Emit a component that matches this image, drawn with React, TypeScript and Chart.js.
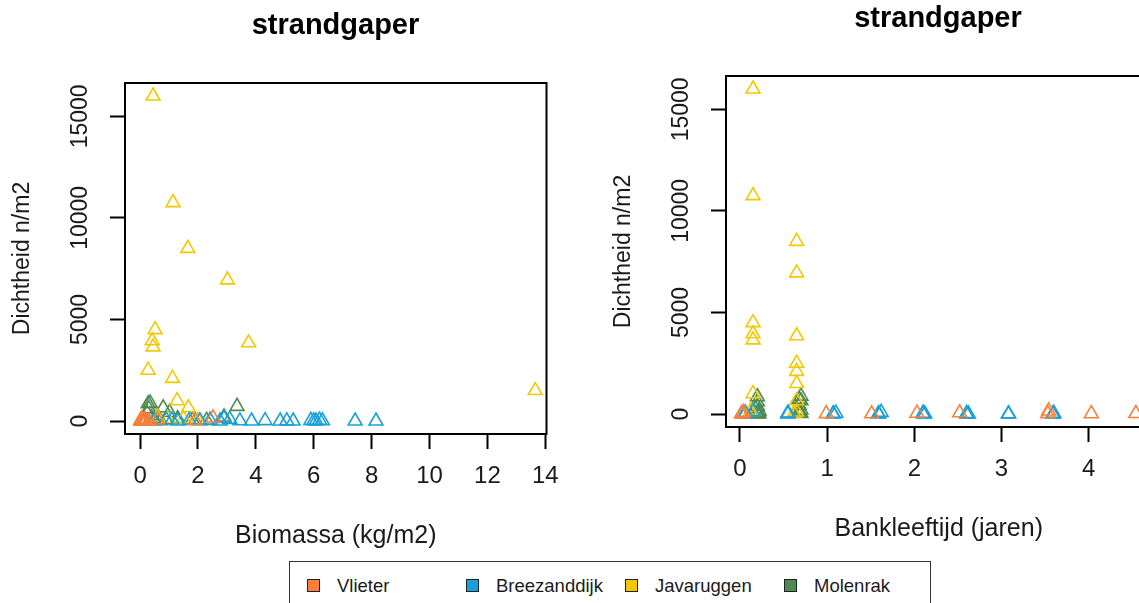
import React, { useEffect, useRef } from "react";
import { Chart, registerables } from "chart.js";

Chart.register(...registerables);

const FONT = "'Liberation Sans', Arial, Helvetica, sans-serif";

// Sites (legend order) and their colours
const sites = ["Vlieter", "Breezanddijk", "Javaruggen", "Molenrak"];
const siteColors = ["#F9803A", "#1AA0D8", "#F4C800", "#4E8A50"];

// Vlieter
const vlieterBiomassa = [0.02, 0.05, 0.1, 2.52, 0.3, 0.15, 0.6, 0.08, 0.2, 1.9, 0.04];
const vlieterLeeftijd = [0.02, 0.04, 0.99, 3.54, 1.51, 2.03, 2.52, 3.53, 4.03, 4.54, 0.02];
const vlieterDichtheid = [30, 80, 20, 150, 10, 40, 60, 20, 15, 25, 0];

// Breezanddijk
const breezBiomassa = [0.5, 0.9, 1.3, 1.7, 2.07, 2.42, 2.76, 3.1, 3.45, 3.85, 4.32, 4.84, 5.07, 5.29, 5.9, 6.0, 6.08, 6.2, 6.3, 7.43, 8.15, 2.9, 1.1, 0.2];
const breezLeeftijd = [0.06, 0.06, 0.55, 0.55, 1.07, 1.1, 1.59, 1.62, 2.1, 2.12, 2.6, 2.62, 3.08, 3.59, 3.6, 0.06, 1.07, 2.1, 2.6, 3.08, 3.59, 0.15, 0.55, 1.59];
const breezDichtheid = [20, 60, 0, 30, 10, 40, 0, 80, 10, 0, 20, 0, 10, 0, 30, 10, 0, 40, 10, 0, 0, 120, 50, 20];

// Javaruggen
const javaBiomassa = [0.45, 1.14, 1.65, 3.02, 0.52, 0.42, 0.45, 3.75, 0.28, 1.12, 13.65, 1.28, 1.67, 0.6, 0.95, 1.5, 2.0];
const javaLeeftijd = [0.15, 0.15, 0.65, 0.65, 0.15, 0.15, 0.15, 0.65, 0.65, 0.65, 0.65, 0.15, 0.65, 0.13, 0.12, 0.65, 0.62];
const javaDichtheid = [16000, 10750, 8500, 6950, 4500, 3950, 3650, 3850, 2500, 2100, 1500, 1000, 650, 200, 120, 100, 40];

// Molenrak
const molenBiomassa = [0.28, 0.35, 0.3, 0.25, 0.4, 0.8, 1.02, 3.35, 0.6, 1.3, 1.8, 2.3, 0.15, 0.5, 2.9, 0.7];
const molenLeeftijd = [0.2, 0.7, 0.2, 0.2, 0.22, 0.7, 0.68, 0.68, 0.18, 0.68, 0.2, 0.7, 0.2, 0.68, 0.7, 0.22];
const molenDichtheid = [850, 880, 600, 380, 150, 650, 420, 720, 250, 120, 60, 30, 0, 80, 200, 10];

// Axis ticks
const biomassaTicks = [0, 2, 4, 6, 8, 10, 12, 14];
const leeftijdTicks = [0, 1, 2, 3, 4];
const dichtheidTicks = [0, 5000, 10000, 15000];

const biomassaPerSite = [vlieterBiomassa, breezBiomassa, javaBiomassa, molenBiomassa];
const leeftijdPerSite = [vlieterLeeftijd, breezLeeftijd, javaLeeftijd, molenLeeftijd];
const dichtheidPerSite = [vlieterDichtheid, breezDichtheid, javaDichtheid, molenDichtheid];

const CANVAS_H = 560;
const AREA_TOP = 83;
const AREA_BOTTOM = 434;
const AREA_LEFT = 125;
const TEXT = "#1a1a1a";

// Frame around the plotting region
const boxPlugin = {
  id: "plotBox",
  afterDraw(chart: any) {
    const { ctx, chartArea: a } = chart;
    ctx.save();
    ctx.strokeStyle = "#000";
    ctx.lineWidth = 2;
    ctx.strokeRect(a.left, a.top, a.right - a.left, a.bottom - a.top);
    ctx.restore();
  },
};

const axisGrid = {
  display: true,
  drawOnChartArea: false,
  drawTicks: true,
  tickLength: 15,
  tickWidth: 2,
  tickColor: "#000",
};

type PanelProps = {
  xPerSite: number[][];
  xMin: number;
  xMax: number;
  xTicks: number[];
  xTitle: string;
  width: number;
  padRight: number;
  left: number;
  top: number;
};

function ScatterPanel({ xPerSite, xMin, xMax, xTicks, xTitle, width, padRight, left, top }: PanelProps) {
  const ref = useRef<HTMLCanvasElement>(null);

  useEffect(() => {
    const datasets = sites.map((name, s) => ({
      label: name,
      data: xPerSite[s].map((x, i) => ({ x, y: dichtheidPerSite[s][i] })),
      showLine: false,
      pointStyle: "triangle" as const,
      pointRadius: 8,
      pointHoverRadius: 8,
      pointBorderWidth: 1.6,
      borderColor: siteColors[s],
      backgroundColor: "rgba(0,0,0,0)",
    }));

    const chart = new Chart(ref.current as HTMLCanvasElement, {
      type: "scatter",
      data: { datasets },
      options: {
        animation: false,
        responsive: false,
        events: [],
        layout: { padding: { top: AREA_TOP, left: 0, right: padRight, bottom: 0 } },
        plugins: {
          legend: { display: false },
          tooltip: { enabled: false },
          title: { display: false },
        },
        scales: {
          x: {
            type: "linear",
            min: xMin,
            max: xMax,
            afterBuildTicks: (s: any) => {
              s.ticks = xTicks.map((v) => ({ value: v }));
            },
            afterFit: (s: any) => {
              s.height = CANVAS_H - AREA_BOTTOM;
            },
            grid: axisGrid,
            border: { display: false },
            ticks: {
              color: TEXT,
              font: { family: FONT, size: 24 },
              padding: 12.5,
              maxRotation: 0,
              autoSkip: false,
              callback: (v: any) => String(v),
            },
            title: {
              display: true,
              text: xTitle,
              color: TEXT,
              font: { family: FONT, size: 25 },
              padding: { top: 0, bottom: 9 },
            },
          },
          y: {
            type: "linear",
            min: -640,
            max: 16640,
            afterBuildTicks: (s: any) => {
              s.ticks = dichtheidTicks.map((v) => ({ value: v }));
            },
            afterFit: (s: any) => {
              s.width = AREA_LEFT;
            },
            grid: axisGrid,
            border: { display: false },
            ticks: {
              color: TEXT,
              font: { family: FONT, size: 23 },
              padding: -3,
              crossAlign: "center",
              minRotation: 90,
              maxRotation: 90,
              autoSkip: false,
              callback: (v: any) => String(v),
            },
            title: {
              display: true,
              text: "Dichtheid n/m2",
              color: TEXT,
              font: { family: FONT, size: 23 },
              padding: { top: 9, bottom: 0 },
            },
          },
        },
      },
      plugins: [boxPlugin],
    } as any);

    return () => chart.destroy();
  }, []);

  return (
    <canvas
      ref={ref}
      width={width}
      height={CANVAS_H}
      style={{ position: "absolute", left, top, width, height: CANVAS_H }}
    />
  );
}

function PanelTitle({ left, top, width }: { left: number; top: number; width: number }) {
  return (
    <div
      style={{
        position: "absolute",
        left,
        top,
        width,
        textAlign: "center",
        fontFamily: FONT,
        fontWeight: "bold",
        fontSize: 29,
        lineHeight: "29px",
        color: "#000",
        whiteSpace: "nowrap",
      }}
    >
      strandgaper
    </div>
  );
}

function Legend() {
  return (
    <div
      style={{
        position: "absolute",
        left: 289,
        top: 561,
        width: 642,
        height: 70,
        border: "1.5px solid #333",
        boxSizing: "border-box",
        background: "#fff",
      }}
    >
      {sites.map((name, i) => (
        <React.Fragment key={name}>
          <div
            style={{
              position: "absolute",
              left: 17 + 159 * i,
              top: 17,
              width: 13,
              height: 13,
              boxSizing: "border-box",
              border: "1px solid #222",
              background: siteColors[i],
            }}
          />
          <div
            style={{
              position: "absolute",
              left: 47 + 159 * i,
              top: 14,
              fontFamily: FONT,
              fontSize: 18.5,
              lineHeight: "20px",
              color: TEXT,
              whiteSpace: "nowrap",
            }}
          >
            {name}
          </div>
        </React.Fragment>
      ))}
    </div>
  );
}

export default function App() {
  return (
    <div
      style={{
        position: "absolute",
        left: 0,
        top: 0,
        width: 1139,
        height: 603,
        overflow: "hidden",
        background: "#fff",
      }}
    >
      <ScatterPanel
        xPerSite={biomassaPerSite}
        xMin={-0.52}
        xMax={14.04}
        xTicks={biomassaTicks}
        xTitle="Biomassa (kg/m2)"
        width={580}
        padRight={33.5}
        left={0}
        top={0}
      />
      <ScatterPanel
        xPerSite={leeftijdPerSite}
        xMin={-0.16}
        xMax={4.72}
        xTicks={leeftijdTicks}
        xTitle="Bankleeftijd (jaren)"
        width={600}
        padRight={49.5}
        left={601}
        top={-7}
      />
      <PanelTitle left={125} top={9.5} width={421} />
      <PanelTitle left={726} top={2.5} width={424} />
      <Legend />
    </div>
  );
}
